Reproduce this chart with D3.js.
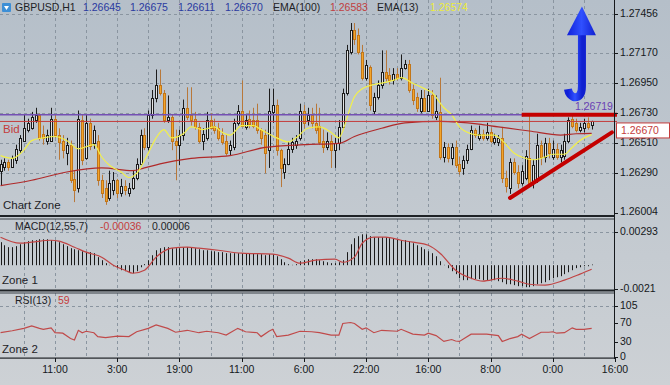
<!DOCTYPE html>
<html><head><meta charset="utf-8">
<script src="https://cdnjs.cloudflare.com/ajax/libs/d3/7.8.5/d3.min.js"></script>
<style>
body{margin:0;background:#c0c8d0}
svg{display:block}
text{font-family:"Liberation Sans",Arial,sans-serif;font-size:10.5px}
</style></head>
<body><svg id="c" width="670" height="385"></svg>
<script>
// ---------- DATA ----------
const symbol = "GBPUSD,H1";
const headerOHLC = ["1.26645","1.26675","1.26611","1.26670"];
const ema100Label = "1.26583", ema13Label = "1.26574";
const lastPrice = 1.26670, linePrice = 1.26719;

const opens = [1.2631,1.2634,1.2637,1.2634,1.2639,1.2646,1.2653,1.2661,1.2662,1.2668,
1.2672,1.2658,1.2653,1.2653,1.2669,1.2657,1.2653,1.2644,1.2650,1.2625,
1.2618,1.2668,1.2640,1.2666,1.2651,1.2653,1.2624,1.2618,1.2611,1.2617,
1.2624,1.2615,1.2620,1.2615,1.2618,1.2626,1.2636,1.2657,1.2648,1.2672,
1.2684,1.2694,1.2688,1.2668,1.2670,1.2653,1.2650,1.2657,1.2677,1.2672,
1.2669,1.2663,1.2653,1.2655,1.2668,1.2664,1.2662,1.2657,1.2653,1.2646,
1.2648,1.2666,1.2675,1.2663,1.2669,1.2668,1.2668,1.2661,1.2657,1.2646,
1.2674,1.2679,1.2646,1.2630,1.2636,1.2647,1.2650,1.2655,1.2675,1.2668,
1.2672,1.2666,1.2664,1.2653,1.2648,1.2653,1.2646,1.2651,1.2663,1.2688,
1.2718,1.2734,1.2730,1.2718,1.2699,1.2707,1.2675,1.2685,1.2694,1.2703,
1.2701,1.2697,1.2702,1.2699,1.2706,1.2709,1.2691,1.2685,1.2675,1.2684,
1.2675,1.2686,1.2670,1.2674,1.2641,1.2648,1.2640,1.2648,1.2636,1.2633,
1.2639,1.2647,1.2661,1.2655,1.2658,1.2655,1.2659,1.2652,1.2652,1.2655,
1.2626,1.2618,1.2637,1.2630,1.2622,1.2626,1.2640,1.2622,1.2625,1.2650,
1.2641,1.2651,1.2641,1.2647,1.2641,1.2642,1.2653,1.2669,1.2666,1.2661,
1.2662,1.2666,1.26645];
const highs = [1.2639,1.2640,1.2639,1.2642,1.2650,1.2657,1.2672,1.2669,1.2674,1.2677,
1.2673,1.2664,1.2661,1.2677,1.2672,1.2662,1.2657,1.2655,1.2653,1.2631,
1.2675,1.2672,1.2672,1.2669,1.2664,1.2657,1.2628,1.2624,1.2631,1.2630,
1.2625,1.2625,1.2624,1.2622,1.2631,1.2640,1.2661,1.2662,1.2675,1.2690,
1.2705,1.2705,1.2690,1.2686,1.2672,1.2661,1.2661,1.2683,1.2692,1.2692,
1.2674,1.2666,1.2662,1.2674,1.2673,1.2669,1.2666,1.2662,1.2657,1.2653,
1.2669,1.2679,1.2697,1.2672,1.2675,1.2677,1.2680,1.2662,1.2661,1.2691,
1.2691,1.2683,1.2647,1.2640,1.2652,1.2655,1.2657,1.2680,1.2679,1.2677,
1.2677,1.2680,1.2677,1.2661,1.2659,1.2657,1.2655,1.2668,1.2691,1.2723,
1.2739,1.2739,1.2735,1.2723,1.2712,1.2708,1.2688,1.2697,1.2719,1.2719,
1.2706,1.2706,1.2706,1.2716,1.2712,1.2712,1.2694,1.2688,1.2690,1.2690,
1.2691,1.2690,1.2686,1.2699,1.2652,1.2651,1.2651,1.2653,1.2641,1.2642,
1.2650,1.2664,1.2662,1.2664,1.2661,1.2666,1.2662,1.2658,1.2657,1.2663,
1.2631,1.2640,1.2640,1.2635,1.2635,1.2646,1.2672,1.2639,1.2658,1.2653,
1.2655,1.2655,1.2653,1.2651,1.2650,1.2658,1.2670,1.2672,1.2669,1.2666,
1.2669,1.2670,1.26675];
const lows = [1.2620,1.2631,1.2631,1.2633,1.2636,1.2644,1.2652,1.2659,1.2661,1.2666,
1.2653,1.2650,1.2650,1.2652,1.2655,1.2639,1.2640,1.2635,1.2622,1.2608,
1.2615,1.2635,1.2639,1.2646,1.2647,1.2620,1.2611,1.2606,1.2609,1.2613,
1.2611,1.2612,1.2613,1.2612,1.2617,1.2624,1.2635,1.2646,1.2646,1.2669,
1.2681,1.2686,1.2666,1.2666,1.2646,1.2624,1.2635,1.2653,1.2668,1.2664,
1.2661,1.2651,1.2646,1.2653,1.2661,1.2658,1.2653,1.2650,1.2642,1.2642,
1.2646,1.2664,1.2663,1.2661,1.2662,1.2662,1.2658,1.2650,1.2629,1.2633,
1.2666,1.2642,1.2619,1.2625,1.2635,1.2644,1.2647,1.2653,1.2662,1.2664,
1.2662,1.2658,1.2650,1.2644,1.2646,1.2633,1.2633,1.2646,1.2661,1.2686,
1.2716,1.2723,1.2716,1.2697,1.2697,1.2675,1.2672,1.2683,1.2691,1.2696,
1.2694,1.2694,1.2697,1.2697,1.2705,1.2688,1.2679,1.2674,1.2673,1.2674,
1.2674,1.2669,1.2668,1.2639,1.2637,1.2637,1.2635,1.2633,1.2628,1.2628,
1.2636,1.2646,1.2655,1.2653,1.2653,1.2653,1.2651,1.2650,1.2649,1.2622,
1.2615,1.2614,1.2628,1.2618,1.2620,1.2624,1.2620,1.2618,1.2622,1.2635,
1.2637,1.2640,1.2639,1.2639,1.2637,1.2639,1.2651,1.2662,1.2659,1.2659,
1.2659,1.2661,1.26611];
const closes = [1.2636,1.2637,1.2634,1.2640,1.2647,1.2655,1.2662,1.2666,1.2670,1.2672,
1.2655,1.2655,1.2657,1.2669,1.2657,1.2652,1.2646,1.2650,1.2624,1.2617,
1.2669,1.2639,1.2666,1.2649,1.2661,1.2624,1.2615,1.2609,1.2622,1.2624,
1.2615,1.2620,1.2617,1.2618,1.2626,1.2636,1.2657,1.2648,1.2672,1.2684,
1.2694,1.2688,1.2668,1.2670,1.2653,1.2650,1.2657,1.2677,1.2670,1.2668,
1.2663,1.2653,1.2658,1.2668,1.2662,1.2661,1.2655,1.2652,1.2644,1.2650,
1.2666,1.2675,1.2664,1.2668,1.2665,1.2664,1.2661,1.2655,1.2644,1.2675,
1.2679,1.2646,1.2633,1.2636,1.2647,1.2652,1.2653,1.2675,1.2666,1.2672,
1.2666,1.2661,1.2652,1.2648,1.2653,1.2646,1.2651,1.2663,1.2688,1.2719,
1.2734,1.2727,1.2718,1.2699,1.2708,1.2679,1.2685,1.2694,1.2703,1.2699,
1.2697,1.2702,1.2699,1.2706,1.2709,1.2690,1.2683,1.2677,1.2684,1.2675,
1.2686,1.2672,1.2675,1.2641,1.2648,1.2640,1.2648,1.2635,1.2631,1.2639,
1.2647,1.2661,1.2657,1.2658,1.2655,1.2659,1.2653,1.2655,1.2655,1.2626,
1.2620,1.2637,1.2630,1.2622,1.2631,1.2642,1.2622,1.2635,1.2650,1.2641,
1.2651,1.2644,1.2647,1.2641,1.2646,1.2653,1.2668,1.2664,1.2661,1.2663,
1.2666,1.2663,1.26670];

const ema13Idx = [0,3,6,8,11,14,17,20,24,26,28,31,33,35,38,40,42,44,47,49,52,55,57,59,62,65,67,71,74,76,79,82,85,87,88,89,91,93,96,98,101,103,106,109,111,114,116,118,121,123,127,129,132,134,137,140,142,145,147,149,152];
const ema13 = [1.2642,1.2640,1.2646,1.2653,1.2655,1.2656,1.2653,1.2647,1.2650,1.2641,1.2635,1.2630,1.2626,1.2629,1.2644,1.2655,1.2661,1.2655,1.2658,1.2663,1.2661,1.2663,1.2659,1.2657,1.2664,1.2664,1.2661,1.2655,1.2652,1.2655,1.2662,1.2663,1.2659,1.2655,1.2660,1.2669,1.2685,1.2691,1.2694,1.2695,1.2697,1.2699,1.2695,1.2691,1.2688,1.2677,1.2672,1.2663,1.2658,1.2657,1.2657,1.2653,1.2644,1.2641,1.2639,1.2641,1.2643,1.2643,1.2648,1.2653,1.26574];
const ema100Idx = [0,8,17,26,34,37,41,49,59,68,78,87,91,98,104,113,123,128,136,144,148,152];
const ema100 = [1.2620,1.2624,1.2630,1.2633,1.2631,1.2633,1.2636,1.2640,1.2642,1.2648,1.2650,1.2651,1.2656,1.2662,1.2666,1.2667,1.2665,1.2663,1.2660,1.2657,1.2658,1.26583];

const macdHist = [0.00203,0.00176,0.00159,0.00159,0.00168,0.00185,0.00203,0.00212,0.00221,0.00221,
0.00229,0.00229,0.00229,0.00221,0.00212,0.00203,0.00185,0.00168,0.00150,0.00141,
0.00132,0.00123,0.00115,0.00115,0.00106,0.00071,0.00044,0.00018,0.00003,-0.00009,
-0.00026,-0.00044,-0.00053,-0.00062,-0.00071,-0.00053,-0.00018,0.00009,0.00044,0.00088,
0.00132,0.00150,0.00159,0.00159,0.00150,0.00150,0.00150,0.00159,0.00159,0.00159,
0.00150,0.00141,0.00132,0.00132,0.00123,0.00123,0.00115,0.00115,0.00106,0.00106,
0.00106,0.00106,0.00106,0.00106,0.00106,0.00106,0.00097,0.00097,0.00088,0.00097,
0.00097,0.00079,0.00053,0.00026,0.00009,0.00003,0.00009,0.00035,0.00044,0.00053,
0.00053,0.00053,0.00044,0.00035,0.00026,0.00018,0.00018,0.00026,0.00044,0.00115,
0.00185,0.00238,0.00256,0.00273,0.00273,0.00256,0.00247,0.00247,0.00247,0.00247,
0.00238,0.00238,0.00229,0.00221,0.00221,0.00212,0.00194,0.00176,0.00159,0.00141,
0.00123,0.00106,0.00079,0.00035,0.00003,-0.00026,-0.00053,-0.00079,-0.00115,-0.00132,
-0.00132,-0.00123,-0.00123,-0.00123,-0.00132,-0.00132,-0.00132,-0.00132,-0.00141,-0.00150,
-0.00168,-0.00168,-0.00176,-0.00185,-0.00185,-0.00194,-0.00194,-0.00185,-0.00168,-0.00159,
-0.00150,-0.00132,-0.00115,-0.00106,-0.00097,-0.00079,-0.00062,-0.00044,-0.00026,-0.00018,
-0.00009,-0.00009,0.00006];
const macdSigIdx = [0,5,8,13,15,19,22,26,29,32,34,37,40,44,48,51,56,62,70,74,77,81,86,88,91,93,96,99,103,106,110,113,117,121,124,129,133,136,140,145,149,152];
const macdSig = [0.00247,0.00194,0.00203,0.0022,0.00212,0.00159,0.00115,0.00071,0,-0.00044,-0.00071,-0.00044,0.00071,0.0015,0.00159,0.0015,0.00132,0.00106,0.00097,0.00062,0.00018,0.00044,0.00053,0.00026,0.00071,0.00194,0.00247,0.00247,0.0022,0.00203,0.00176,0.00106,-0.00044,-0.00115,-0.00141,-0.00115,-0.00141,-0.00168,-0.00176,-0.00132,-0.00079,-0.00036];

const rsiIdx = [0,3,6,8,10,11,13,14,16,18,19,20,21,22,24,25,27,30,33,35,38,40,43,45,48,51,53,56,58,61,63,66,67,69,70,71,74,77,80,82,85,87,88,90,91,93,94,96,98,102,103,106,109,110,112,114,116,117,118,121,125,128,129,131,133,134,136,139,141,142,143,145,147,148,150,152];
const rsi = [50,54,59,64,59,57,60,50,49,38,35,55,50,53,50,42,40,43,42,52,59,66,59,51,55,50,53,50,45,59,52,50,42,53,57,42,45,53,52,50,45,45,69,71,69,57,60,50,55,53,57,47,45,49,44,32,36,33,32,47,47,44,32,38,42,47,38,51,51,52,49,50,60,57,57,59];

const priceTicks = [1.27456,1.27170,1.26950,1.26730,1.26510,1.26290,1.26004];
const macdTicks = [0.00293,-0.0021];
const rsiTicks = [105,70,30,0];
const timeIdx = [14,30,46,62,78,94,110,126,142,158];
const timeLabels = ["11:00","3:00","19:00","11:00","6:00","22:00","16:00","8:00","0:00","16:00"];
const trendLine = [[131,1.2611],[157.2,1.2659]];
const resistLine = [[134,1.26719],[158.5,1.26719]];
const arrowIdx = 149.5, arrowTip = 1.2751, arrowBase = 1.2730, arrowBottom = 1.2684;

// ---------- LAYOUT ----------
const R = 614;
const P = {main:[0,215], macd:[219,290], rsi:[293,358]};
const x = d3.scaleLinear().domain([0,158]).range([0.56,615]);
const yP = d3.scaleLinear().domain([1.26004,1.27456]).range([212.5,14]);
const yM = d3.scaleLinear().domain([-0.0021,0.00293]).range([289,232]);
const yR = d3.scaleLinear().domain([0,105]).range([357,306]);
const px = i => Math.round(x(i));

const svg = d3.select('#c');
const defs = svg.append('defs');
const bg = defs.append('linearGradient').attr('id','bg').attr('x1',0).attr('y1',0).attr('x2',0).attr('y2',1);
bg.append('stop').attr('offset','0%').attr('stop-color','#b5bfc9');
bg.append('stop').attr('offset','100%').attr('stop-color','#cdd1d5');
const ag = defs.append('linearGradient').attr('id','ag').attr('x1',0).attr('y1',0).attr('x2',1).attr('y2',0);
ag.append('stop').attr('offset','0%').attr('stop-color','#1020d8');
ag.append('stop').attr('offset','50%').attr('stop-color','#3050ff');
ag.append('stop').attr('offset','100%').attr('stop-color','#1020d0');
Object.entries(P).forEach(([k,[t,b]])=>{
  defs.append('clipPath').attr('id','cl-'+k).append('rect').attr('x',0).attr('y',t).attr('width',R).attr('height',b-t);
});
svg.append('rect').attr('width',670).attr('height',385).attr('fill','url(#bg)');

// grid
const grid = svg.append('g').attr('stroke','#8a95a0').attr('stroke-dasharray','3,3').attr('stroke-width',1);
const vIdx = d3.range(6,151,8);
Object.values(P).forEach(([t,b])=>{
  grid.selectAll(null).data(vIdx).join('line')
    .attr('x1',d=>px(d)+0.5).attr('x2',d=>px(d)+0.5).attr('y1',t).attr('y2',b);
});
grid.selectAll(null).data(priceTicks.slice(0,6)).join('line')
  .attr('x1',0).attr('x2',R).attr('y1',d=>Math.round(yP(d))+0.5).attr('y2',d=>Math.round(yP(d))+0.5);
grid.append('line').attr('x1',0).attr('x2',R).attr('y1',Math.round(yM(macdTicks[0]))+0.5).attr('y2',Math.round(yM(macdTicks[0]))+0.5);
grid.append('line').attr('x1',0).attr('x2',R).attr('y1',Math.round(yR(105))+0.5).attr('y2',Math.round(yR(105))+0.5);

// candles
const candles = closes.map((c,i)=>({i,o:opens[i],h:highs[i],l:lows[i],c}));
const gMain = svg.append('g').attr('clip-path','url(#cl-main)');
gMain.selectAll('line.w').data(candles).join('line').attr('class','w')
  .attr('x1',d=>px(d.i)+0.5).attr('x2',d=>px(d.i)+0.5)
  .attr('y1',d=>yP(d.h)).attr('y2',d=>yP(d.l))
  .attr('stroke',d=>d.c>=d.o?'#1c1c1c':'#b8783a');
gMain.selectAll('rect.b').data(candles).join('rect').attr('class','b')
  .attr('x',d=>px(d.i)-0.5)
  .attr('y',d=>Math.round(yP(Math.max(d.o,d.c)))+0.5)
  .attr('width',2)
  .attr('height',d=>Math.max(1,Math.round(yP(Math.min(d.o,d.c)))-Math.round(yP(Math.max(d.o,d.c)))))
  .attr('fill',d=>d.c>=d.o?'#e4e4e4':'#f3a52b')
  .attr('stroke',d=>d.c>=d.o?'#1c1c1c':'#c27618');

// EMAs
const lineP = d3.line().x(d=>x(d[0])).y(d=>yP(d[1])).curve(d3.curveMonotoneX);
gMain.append('path').attr('d',lineP(ema100Idx.map((d,i)=>[d,ema100[i]]))).attr('fill','none').attr('stroke','#b02a2a').attr('stroke-width',1.2);
gMain.append('path').attr('d',lineP(ema13Idx.map((d,i)=>[d,ema13[i]]))).attr('fill','none').attr('stroke','#f2f04a').attr('stroke-width',1.2);

// horizontal price lines
gMain.append('line').attr('x1',0).attr('x2',R).attr('y1',yP(linePrice)).attr('y2',yP(linePrice)).attr('stroke','#7450b4').attr('stroke-width',1.5);
svg.append('line').attr('x1',0).attr('x2',617).attr('y1',yP(lastPrice)).attr('y2',yP(lastPrice)).attr('stroke','#c43c3c').attr('stroke-width',1);

// annotations
const annot = svg.append('g');
annot.append('line').attr('x1',x(resistLine[0][0])).attr('x2',x(resistLine[1][0]))
  .attr('y1',yP(resistLine[0][1])).attr('y2',yP(resistLine[1][1])).attr('stroke','#c40000').attr('stroke-width',4);
annot.append('line').attr('x1',x(trendLine[0][0])).attr('x2',x(trendLine[1][0]))
  .attr('y1',yP(trendLine[0][1])).attr('y2',yP(trendLine[1][1])).attr('stroke','#c40000').attr('stroke-width',4).attr('stroke-linecap','round');
const ax = x(arrowIdx), ayT = yP(arrowTip), ayB = yP(arrowBase), ayE = yP(arrowBottom);
annot.append('path').attr('d',`M${ax},${ayB-1} L${ax},${ayE-12} Q${ax},${ayE} ${ax-8},${ayE-1} Q${ax-13},${ayE-3} ${ax-14},${ayE-9}`)
  .attr('fill','none').attr('stroke','url(#ag)').attr('stroke-width',8);
annot.append('path').attr('d',`M${ax},${ayT} L${ax+14},${ayB} L${ax-15},${ayB} Z`).attr('fill','url(#ag)');
annot.append('text').attr('x',575).attr('y',yP(linePrice)-8).attr('dominant-baseline','middle').attr('fill','#6a40b4').text(d3.format('.5f')(linePrice));

// MACD
const gM = svg.append('g').attr('clip-path','url(#cl-macd)');
gM.selectAll('line').data(macdHist).join('line')
  .attr('x1',(d,i)=>px(i)+0.5).attr('x2',(d,i)=>px(i)+0.5)
  .attr('y1',yM(0)).attr('y2',d=>yM(d)).attr('stroke','#1a1a1a').attr('stroke-width',1);
const lineM = d3.line().x(d=>x(d[0])).y(d=>yM(d[1])).curve(d3.curveMonotoneX);
gM.append('path').attr('d',lineM(macdSigIdx.map((d,i)=>[d,macdSig[i]]))).attr('fill','none').attr('stroke','#c04444').attr('stroke-width',1.2);

// RSI
const gR = svg.append('g').attr('clip-path','url(#cl-rsi)');
const lineR = d3.line().x(d=>x(d[0])).y(d=>yR(d[1]));
gR.append('path').attr('d',lineR(rsiIdx.map((d,i)=>[d,rsi[i]]))).attr('fill','none').attr('stroke','#c04a4a').attr('stroke-width',1.2);

// frames
const fr = svg.append('g').attr('fill','#1e2226');
fr.append('rect').attr('x',0).attr('y',215).attr('width',R).attr('height',2);
fr.append('rect').attr('x',0).attr('y',218.5).attr('width',R).attr('height',1).attr('fill','#3a4046');
fr.append('rect').attr('x',0).attr('y',289.5).attr('width',R).attr('height',2);
fr.append('rect').attr('x',0).attr('y',292.5).attr('width',R).attr('height',1).attr('fill','#3a4046');
fr.append('rect').attr('x',0).attr('y',357.5).attr('width',R+1).attr('height',1.2);
svg.append('line').attr('x1',R+0.5).attr('x2',R+0.5).attr('y1',0).attr('y2',359).attr('stroke','#15181b').attr('stroke-width',1);

// right axis labels
const axG = svg.append('g');
const axisLab = (v,y,t)=>{
  axG.append('line').attr('x1',R).attr('x2',R+4).attr('y1',Math.round(y)+0.5).attr('y2',Math.round(y)+0.5).attr('stroke','#15181b');
  axG.append('text').attr('x',R+6).attr('y',y).attr('dominant-baseline','middle').attr('fill','#15181b').text(t);
};
priceTicks.forEach(v=>axisLab(v,yP(v),d3.format('.5f')(v)));
macdTicks.forEach(v=>axisLab(v,yM(v),v>0?d3.format('.5f')(v):'-'+d3.format('.4f')(-v)));
rsiTicks.forEach(v=>axisLab(v,yR(v),String(v)));

// last price box
svg.append('rect').attr('x',616.5).attr('y',yP(lastPrice)+1.5).attr('width',53).attr('height',15).attr('fill','#ffffff').attr('stroke','#c43c3c');
svg.append('text').attr('x',621).attr('y',yP(lastPrice)+9.5).attr('dominant-baseline','middle').attr('fill','#c43c3c').text(d3.format('.5f')(lastPrice));

// time axis
timeIdx.forEach((d,i)=>{
  svg.append('line').attr('x1',px(d)+0.5).attr('x2',px(d)+0.5).attr('y1',358).attr('y2',362).attr('stroke','#15181b');
  svg.append('text').attr('x',x(d)).attr('y',370).attr('text-anchor','middle').attr('dominant-baseline','middle').attr('fill','#15181b').text(timeLabels[i]);
});

// header
const hd = svg.append('g');
hd.append('rect').attr('x',2).attr('y',3).attr('width',9).attr('height',9).attr('fill','#3d8fd6').attr('rx',1);
hd.append('path').attr('d','M4,6 L9,6 L6.5,10 Z').attr('fill','#ffffff');
const ht = (xx,t,c)=>hd.append('text').attr('x',xx).attr('y',8.5).attr('dominant-baseline','middle').attr('fill',c).text(t);
ht(15,symbol,'#1e2226');
[83,130,178,225].forEach((xx,i)=>ht(xx,headerOHLC[i],'#2a3aa0'));
ht(273,'EMA(100)','#1e2226');
ht(330,ema100Label,'#c04040');
ht(377,'EMA(13)','#1e2226');
ht(430,ema13Label,'#ecec3a');

// zone labels
const lab = (xx,yy,t,c,fs)=>svg.append('text').attr('x',xx).attr('y',yy).attr('dominant-baseline','middle').attr('fill',c).style('font-size',(fs||10.5)+'px').text(t);
lab(3,yP(lastPrice)+9,'Bid','#c43c3c',11.5);
lab(3,206,'Chart Zone','#1e2226',11.5);
lab(15,227,'MACD(12,55,7)','#1e2226');
lab(100,227,'-0.00036','#c43c3c');
lab(152,227,'0.00006','#1e2226');
lab(2,281,'Zone 1','#1e2226',11.5);
lab(15,301,'RSI(13)','#1e2226');
lab(58,301,String(rsi[rsi.length-1]),'#c43c3c');
lab(2,350,'Zone 2','#1e2226',11.5);
</script></body></html>
